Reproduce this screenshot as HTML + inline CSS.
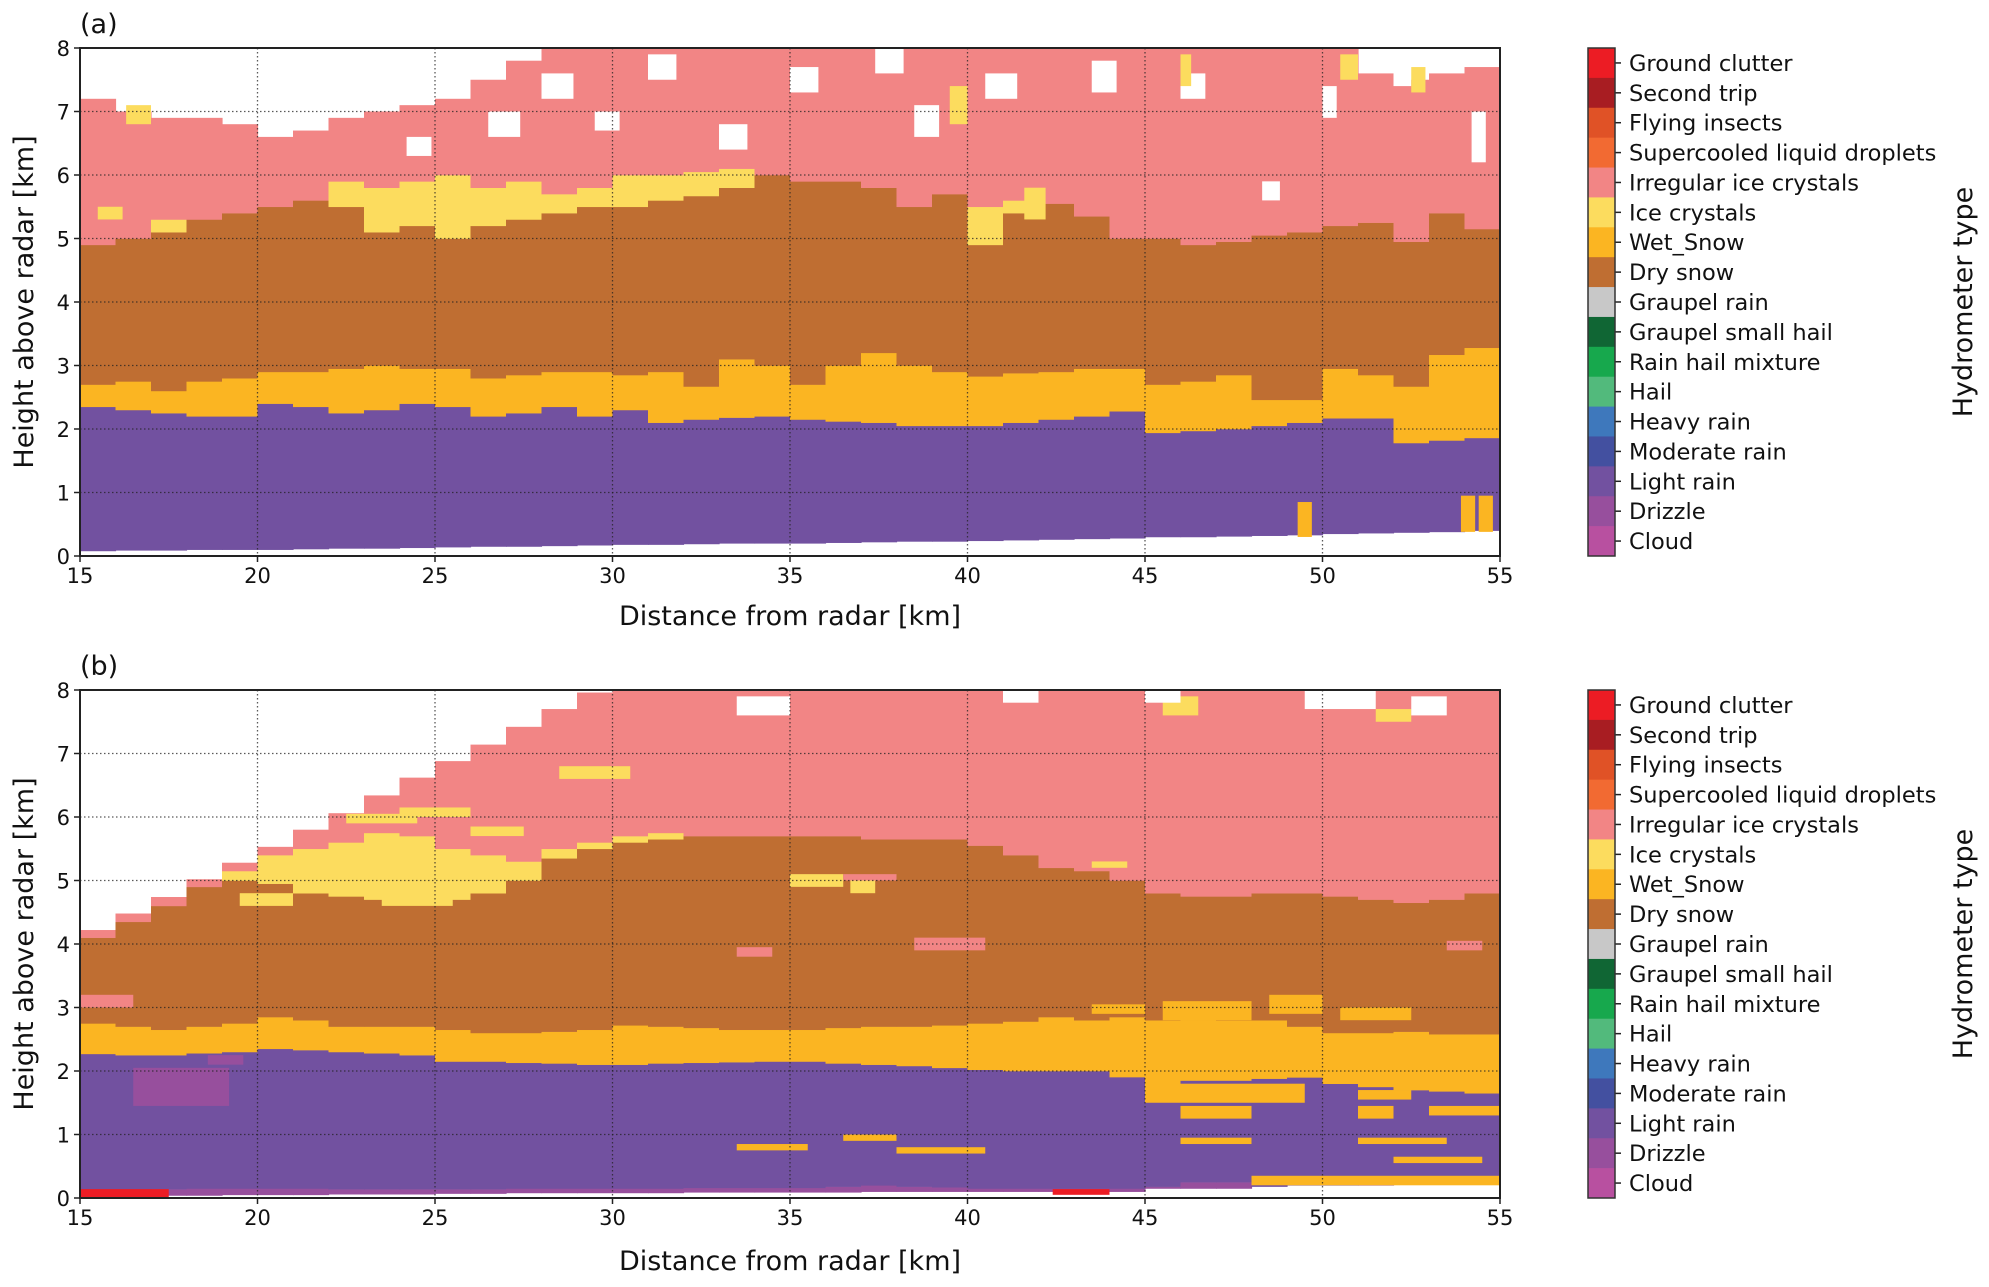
<!DOCTYPE html>
<html><head><meta charset="utf-8">
<style>
html,body{margin:0;padding:0;background:#fff;}
svg{display:block;font-family:"DejaVu Sans","Liberation Sans",sans-serif;}
</style></head>
<body>
<svg id="fig" width="1989" height="1287" viewBox="0 0 1989 1287" xmlns="http://www.w3.org/2000/svg"></svg>
<script>
// ---- Categories (colorbar, top to bottom) ----
const categoryNames = ["Ground clutter","Second trip","Flying insects","Supercooled liquid droplets","Irregular ice crystals","Ice crystals","Wet_Snow","Dry snow","Graupel rain","Graupel small hail","Rain hail mixture","Hail","Heavy rain","Moderate rain","Light rain","Drizzle","Cloud"];
const categoryColors = ["#ec1c24","#a81d22","#e05226","#f26a32","#f28585","#fcdc5e","#fbb522","#bf6e32","#c8c8c8","#106634","#17a84d","#52ba7c","#3e78bc","#4350a0","#7251a0","#974f9d","#b850a0"];
const xTicks = [15,20,25,30,35,40,45,50,55];
const yTicks = [0,1,2,3,4,5,6,7,8];
// bin start distances (km), 1 km bins
const binStarts = [15,16,17,18,19,20,21,22,23,24,25,26,27,28,29,30,31,32,33,34,35,36,37,38,39,40,41,42,43,44,45,46,47,48,49,50,51,52,53,54];

// ---- Panel (a) layer boundaries (km) ----
const aBottom   = [0.08,0.09,0.09,0.1,0.1,0.1,0.11,0.12,0.12,0.13,0.14,0.15,0.15,0.16,0.17,0.18,0.18,0.19,0.2,0.2,0.2,0.21,0.22,0.23,0.23,0.24,0.25,0.26,0.27,0.28,0.3,0.3,0.31,0.32,0.33,0.35,0.36,0.37,0.38,0.4];
const aLightTop = [2.35,2.3,2.25,2.2,2.2,2.4,2.35,2.25,2.3,2.4,2.35,2.2,2.25,2.35,2.2,2.3,2.1,2.15,2.18,2.2,2.15,2.12,2.1,2.05,2.05,2.05,2.1,2.15,2.2,2.28,1.94,1.97,2.0,2.05,2.1,2.17,2.17,1.78,1.82,1.86];
const aWetTop   = [2.7,2.75,2.6,2.75,2.8,2.9,2.9,2.95,3.0,2.95,2.95,2.8,2.85,2.9,2.9,2.85,2.9,2.67,3.1,3.0,2.7,3.0,3.2,3.0,2.9,2.83,2.88,2.9,2.95,2.95,2.7,2.75,2.85,2.46,2.46,2.95,2.85,2.67,3.17,3.28];
const aDryTop   = [4.9,5.0,5.1,5.3,5.4,5.5,5.6,5.5,5.1,5.2,5.0,5.2,5.3,5.4,5.5,5.5,5.6,5.67,5.8,6.0,5.9,5.9,5.8,5.5,5.7,4.9,5.4,5.55,5.35,5.0,5.0,4.9,4.95,5.05,5.1,5.2,5.25,4.95,5.4,5.15];
const aIceTop   = [4.9,5.0,5.3,5.3,5.4,5.5,5.6,5.9,5.8,5.9,6.0,5.8,5.9,5.7,5.8,6.0,6.0,6.05,6.1,6.0,5.9,5.9,5.8,5.5,5.7,5.5,5.6,5.55,5.35,5.0,5.0,4.9,4.95,5.05,5.1,5.2,5.25,4.95,5.4,5.15];
const aEchoTop  = [7.2,7.0,6.9,6.9,6.8,6.6,6.7,6.9,7.0,7.1,7.2,7.5,7.8,8,8,8,8,8,8,8,8,8,8,8,8,8,8,8,8,8,8,8,8,8,8,8,7.6,7.5,7.6,7.7];
// patches: [category, x0, x1, y0, y1]
const aPatches = [
 ["none",16.8,17.6,7.4,7.9],["none",26.5,27.4,6.6,7.0],["none",28,28.9,7.2,7.6],["none",29.5,30.2,6.7,7.0],
 ["none",31,31.8,7.5,7.9],["none",33,33.8,6.4,6.8],["none",35,35.8,7.3,7.7],["none",38.5,39.2,6.6,7.1],
 ["none",40.5,41.4,7.2,7.6],["none",43.5,44.2,7.3,7.8],["none",46,46.7,7.2,7.6],["none",48.3,48.8,5.6,5.9],
 ["none",50,50.4,6.9,7.4],["none",54.2,54.6,6.2,7.0],["none",52,52.5,7.4,7.8],["none",37.4,38.2,7.6,8],["none",24.2,24.9,6.3,6.6],
 ["Ice crystals",50.5,51,7.5,7.9],["Ice crystals",52.5,52.9,7.3,7.7],["Ice crystals",46,46.3,7.4,7.9],["Ice crystals",39.5,40,6.8,7.4],
 ["Ice crystals",16.3,17,6.8,7.1],["Ice crystals",15.5,16.2,5.3,5.5],["Ice crystals",41.6,42.2,5.3,5.8],
 ["Wet_Snow",49.3,49.7,0.3,0.85],["Wet_Snow",53.9,54.3,0.38,0.95],["Wet_Snow",54.4,54.8,0.38,0.95]
];

// ---- Panel (b) layer boundaries (km) ----
const bBottom   = [0.03,0.03,0.04,0.04,0.05,0.05,0.05,0.06,0.06,0.06,0.07,0.07,0.08,0.08,0.08,0.08,0.08,0.09,0.09,0.09,0.09,0.09,0.1,0.1,0.1,0.1,0.1,0.1,0.1,0.1,0.15,0.15,0.15,0.18,0.2,0.2,0.2,0.22,0.25,0.25];
const bDrizzleTop=[0.12,0.12,0.14,0.15,0.15,0.15,0.15,0.14,0.14,0.14,0.14,0.14,0.15,0.15,0.15,0.15,0.15,0.16,0.16,0.16,0.16,0.18,0.2,0.18,0.17,0.15,0.15,0.15,0.15,0.15,0.18,0.25,0.25,0.18,0.2,0.2,0.3,0.3,0.3,0.3];
const bLightTop = [2.27,2.25,2.25,2.28,2.3,2.35,2.33,2.3,2.28,2.25,2.15,2.15,2.13,2.12,2.1,2.1,2.12,2.13,2.14,2.15,2.15,2.12,2.1,2.08,2.05,2.02,2.0,2.0,2.0,2.0,1.8,1.85,1.85,1.88,1.9,1.8,1.75,1.7,1.68,1.65];
const bWetTop   = [2.75,2.7,2.65,2.7,2.75,2.85,2.8,2.7,2.7,2.7,2.65,2.6,2.6,2.62,2.65,2.72,2.7,2.68,2.65,2.65,2.65,2.68,2.7,2.7,2.72,2.75,2.78,2.85,2.8,2.85,2.8,2.85,2.8,2.8,2.7,2.6,2.6,2.62,2.58,2.58];
const bDryTop   = [4.1,4.35,4.6,4.9,5.0,4.95,4.8,4.75,4.7,4.7,4.7,4.8,5.0,5.35,5.5,5.6,5.65,5.7,5.7,5.7,5.7,5.7,5.65,5.65,5.65,5.55,5.4,5.2,5.15,5.0,4.8,4.75,4.75,4.8,4.8,4.75,4.7,4.65,4.7,4.8];
const bIceTop   = [4.1,4.35,4.6,4.9,5.15,5.4,5.5,5.6,5.75,5.7,5.5,5.4,5.3,5.5,5.6,5.7,5.75,5.7,5.7,5.7,5.7,5.7,5.65,5.65,5.65,5.55,5.4,5.2,5.15,5.0,4.8,4.75,4.75,4.8,4.8,4.75,4.7,4.65,4.7,4.8];
const bEchoTop  = [4.22,4.48,4.74,5.02,5.28,5.53,5.8,6.06,6.34,6.62,6.88,7.14,7.42,7.7,7.96,8,8,8,8,8,8,8,8,8,8,8,8,8,8,8,8,8,8,8,8,8,8,8,8,8];
const bPatches = [
 ["Ground clutter",15,17.5,0.0,0.14],["Ground clutter",42.4,44,0.05,0.14],
 ["Drizzle",16.5,19.2,1.45,2.05],["Drizzle",18.6,19.6,2.1,2.25],
 ["Ice crystals",22.5,24.5,5.9,6.05],["Ice crystals",24,26,6.0,6.15],["Ice crystals",26,27.5,5.7,5.85],
 ["Ice crystals",19.5,21,4.6,4.8],["Ice crystals",23.5,25.5,4.6,4.75],
 ["Ice crystals",35,36.5,4.9,5.1],["Ice crystals",36.7,37.4,4.8,5.0],["Ice crystals",43.5,44.5,5.2,5.3],
 ["Ice crystals",45.5,46.5,7.6,7.9],["Ice crystals",51.5,52.5,7.5,7.7],["Ice crystals",28.5,30.5,6.6,6.8],
 ["Irregular ice crystals",38.5,40.5,3.9,4.1],["Irregular ice crystals",33.5,34.5,3.8,3.95],["Irregular ice crystals",15,16.5,3.0,3.2],["Irregular ice crystals",53.5,54.5,3.9,4.05],
 ["Irregular ice crystals",51.5,53,5.0,5.1],["Irregular ice crystals",36.5,38,5.0,5.1],
 ["none",33.5,35,7.6,7.9],["none",49.5,51.5,7.7,8],["none",52.5,53.5,7.6,7.9],["none",45,46,7.8,8],["none",41,42,7.8,8],
 ["Wet_Snow",45.5,48,2.8,3.1],["Wet_Snow",48.5,50,2.9,3.2],["Wet_Snow",50.5,52.5,2.8,3.0],["Wet_Snow",43.5,45,2.9,3.05],
 ["Wet_Snow",45,49.5,1.5,1.8],["Wet_Snow",46,48,1.25,1.45],["Wet_Snow",51,52,1.25,1.45],["Wet_Snow",53,55,1.3,1.45],
 ["Wet_Snow",51,53.5,0.85,0.95],["Wet_Snow",46,48,0.85,0.95],["Wet_Snow",38,40.5,0.7,0.8],["Wet_Snow",36.5,38,0.9,1.0],
 ["Wet_Snow",33.5,35.5,0.75,0.85],["Wet_Snow",52,54.5,0.55,0.65],["Wet_Snow",48,55,0.2,0.35],["Wet_Snow",44,45,1.9,2.1],
 ["Wet_Snow",51,52.5,1.55,1.7]
];

const W = 1989, NS = "http://www.w3.org/2000/svg";
const svg = document.getElementById('fig');
const X0 = 80, X1 = 1500;
function xScale(v){ return X0 + (v-15)/(55-15)*(X1-X0); }
function makeY(top,bottom){ return v => bottom - v/8*(bottom-top); }
function colorOf(name){ return name==="none" ? "#ffffff" : categoryColors[categoryNames.indexOf(name)]; }
function el(tag, attrs, parent){ const e=document.createElementNS(NS,tag); for(const k in attrs) e.setAttribute(k,attrs[k]); (parent||svg).appendChild(e); return e; }

function drawPanel(id, top, bottom, layers, patches, letter, labY){
  const yS = makeY(top,bottom);
  const g = el('g',{});
  
  
  const clip = el('clipPath',{id:'clip-'+id},g);
  el('rect',{x:X0,y:top,width:X1-X0,height:bottom-top},clip);
  const dg = el('g',{'clip-path':'url(#clip-'+id+')'},g);
  
  
  for(let i=0;i<binStarts.length;i++){
    const xa = xScale(binStarts[i]), xb = xScale(binStarts[i]+1);
    for(const L of layers){
      const lo = L.lo[i], hi = L.hi[i];
      if(hi<=lo) continue;
      const r = el('rect',{x:xa,y:yS(hi),width:xb-xa+0.6,height:yS(lo)-yS(hi)+0.3,fill:colorOf(L.cat)},dg);
      
      
    }
  }
  for(const p of patches){
    const r = el('rect',{x:xScale(p[1]),y:yS(p[4]),width:xScale(p[2])-xScale(p[1]),height:yS(p[3])-yS(p[4]),fill:colorOf(p[0])},dg);
    
    
  }
  for(const t of xTicks.slice(1,-1)){
    const l = el('line',{x1:xScale(t),x2:xScale(t),y1:top,y2:bottom,stroke:'#222','stroke-width':1.3,'stroke-dasharray':'1.5,2.5',opacity:0.75},g);
    
    
  }
  for(const t of yTicks.slice(1,-1)){
    const l = el('line',{x1:X0,x2:X1,y1:yS(t),y2:yS(t),stroke:'#222','stroke-width':1.3,'stroke-dasharray':'1.5,2.5',opacity:0.75},g);
    
    
  }
  const fr = el('rect',{x:X0,y:top,width:X1-X0,height:bottom-top,fill:'none',stroke:'#222','stroke-width':2},g);
  
  
  for(const t of xTicks){
    el('line',{x1:xScale(t),x2:xScale(t),y1:bottom,y2:bottom+6,stroke:'#222','stroke-width':1.5},g);
    const tx = el('text',{x:xScale(t),y:bottom+27,'font-size':21,'text-anchor':'middle',fill:'#111'},g);
    tx.textContent = t;
    
    
  }
  for(const t of yTicks){
    el('line',{x1:X0-6,x2:X0,y1:yS(t),y2:yS(t),stroke:'#222','stroke-width':1.5},g);
    const tx = el('text',{x:X0-10,y:yS(t)+8,'font-size':21,'text-anchor':'end',fill:'#111'},g);
    tx.textContent = t;
    
    
  }
  const xl = el('text',{x:(X0+X1)/2,y:labY,'font-size':27,'text-anchor':'middle',fill:'#111'},g);
  xl.textContent = 'Distance from radar [km]';
  
  
  const yl = el('text',{x:0,y:0,'font-size':27,'text-anchor':'middle',fill:'#111',transform:'translate(33,'+((top+bottom)/2)+') rotate(-90)'},g);
  yl.textContent = 'Height above  radar [km]';
  
  
  const pl = el('text',{x:80,y:top-15,'font-size':27,fill:'#111'},g);
  pl.textContent = letter;
  
  
  const cb = el('g',{},g);
  
  
  const cx0 = 1588, cx1 = 1615, n = categoryNames.length, h = (bottom-top)/n;
  categoryNames.forEach((nm,k)=>{
    const r = el('rect',{x:cx0,y:top+k*h,width:cx1-cx0,height:h+0.5,fill:categoryColors[k]},cb);
    
    
    el('line',{x1:cx1,x2:cx1+6,y1:top+(k+0.5)*h,y2:top+(k+0.5)*h,stroke:'#222','stroke-width':1.5},cb);
    const t = el('text',{x:cx1+14,y:top+(k+0.5)*h+8,'font-size':22.5,fill:'#111'},cb);
    t.textContent = nm;
    
    
  });
  el('rect',{x:cx0,y:top,width:cx1-cx0,height:bottom-top,fill:'none',stroke:'#333','stroke-width':1.5},cb);
  const ct = el('text',{x:0,y:0,'font-size':27,'text-anchor':'middle',fill:'#111',transform:'translate(1972,'+((top+bottom)/2)+') rotate(-90)'},cb);
  ct.textContent = 'Hydrometer type';
  
  
}

drawPanel('panel-a', 48, 556, [
  {cat:'Light rain', lo:aBottom, hi:aLightTop},
  {cat:'Wet_Snow', lo:aLightTop, hi:aWetTop},
  {cat:'Dry snow', lo:aWetTop, hi:aDryTop},
  {cat:'Ice crystals', lo:aDryTop, hi:aIceTop},
  {cat:'Irregular ice crystals', lo:aIceTop, hi:aEchoTop}
], aPatches, '(a)', 625);

drawPanel('panel-b', 690, 1198, [
  {cat:'Drizzle', lo:bBottom, hi:bDrizzleTop},
  {cat:'Light rain', lo:bDrizzleTop, hi:bLightTop},
  {cat:'Wet_Snow', lo:bLightTop, hi:bWetTop},
  {cat:'Dry snow', lo:bWetTop, hi:bDryTop},
  {cat:'Ice crystals', lo:bDryTop, hi:bIceTop},
  {cat:'Irregular ice crystals', lo:bIceTop, hi:bEchoTop}
], bPatches, '(b)', 1270);
</script>
</body></html>
